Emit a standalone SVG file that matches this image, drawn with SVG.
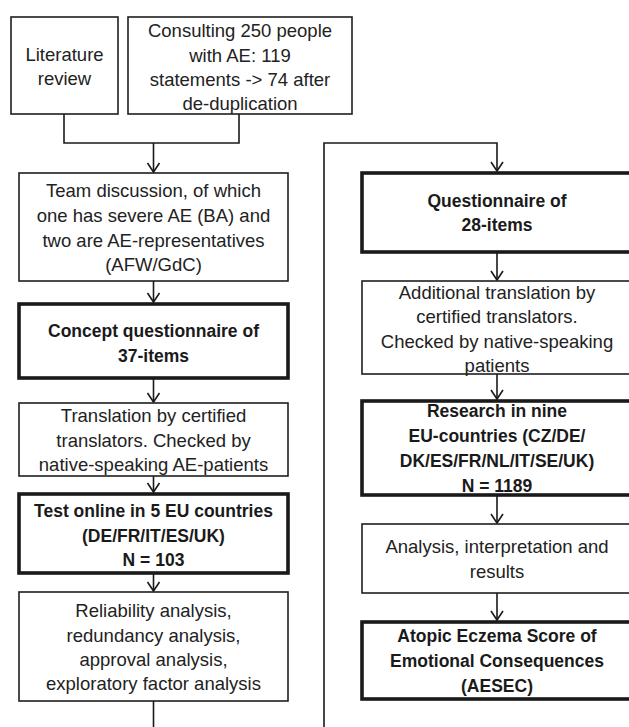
<svg xmlns="http://www.w3.org/2000/svg" width="629" height="727" viewBox="0 0 629 727">
<defs>
<marker id="arr" markerUnits="userSpaceOnUse" markerWidth="16" markerHeight="14" viewBox="-8 -12 16 14" refX="0" refY="0" orient="auto-start-reverse" overflow="visible">
<path d="M-9,-6 L0,0 L-9,6" fill="none" stroke="#1a1a1a" stroke-width="1.6"/>
</marker>
<style>
.box{fill:#fff;stroke:#1f1f1f;stroke-width:1.6}
.bold{fill:#fff;stroke:#1a1a1a;stroke-width:3.6}
.t{font-family:"Liberation Sans",Arial,sans-serif;font-size:18.5px;fill:#222;text-anchor:middle}
.b{font-family:"Liberation Sans",Arial,sans-serif;font-size:17.5px;font-weight:bold;fill:#1a1a1a;text-anchor:middle}
.c{fill:none;stroke:#1a1a1a;stroke-width:1.6}
.ca{fill:none;stroke:#1a1a1a;stroke-width:1.6;marker-end:url(#arr)}
</style>
</defs>
<rect width="629" height="727" fill="#fff"/>
<g id="connectors">
<polyline class="c" points="64,114 64,143 239,143 239,114"/>
<line class="ca" x1="153.5" y1="143" x2="153.5" y2="172"/>
<line class="ca" x1="153.5" y1="281" x2="153.5" y2="302"/>
<line class="ca" x1="153.5" y1="378" x2="153.5" y2="402"/>
<line class="ca" x1="153.5" y1="476" x2="153.5" y2="492"/>
<line class="ca" x1="153.5" y1="573" x2="153.5" y2="591"/>
<line class="c" x1="153.5" y1="701" x2="153.5" y2="727"/>
<polyline class="ca" points="324,727 324,143 497,143 497,171"/>
<line class="ca" x1="497" y1="252" x2="497" y2="280"/>
<line class="ca" x1="497" y1="374" x2="497" y2="399"/>
<line class="ca" x1="497" y1="495" x2="497" y2="523"/>
<line class="ca" x1="497" y1="593" x2="497" y2="620"/>
</g>
<g id="lit">
<rect class="box" x="11" y="17" width="107" height="97"/>
<text class="t" x="64.5" y="61">Literature</text>
<text class="t" x="64.5" y="85">review</text>
</g>
<g id="consult">
<rect class="box" x="128" y="17" width="224" height="97"/>
<text class="t" x="240" y="37">Consulting 250 people</text>
<text class="t" x="240" y="61.5">with AE: 119</text>
<text class="t" x="240" y="86">statements -&gt; 74 after</text>
<text class="t" x="240" y="110">de-duplication</text>
</g>
<g id="team">
<rect class="box" x="19" y="173" width="269" height="108"/>
<text class="t" x="153.5" y="197">Team discussion, of which</text>
<text class="t" x="153.5" y="222">one has severe AE (BA) and</text>
<text class="t" x="153.5" y="246.5">two are AE-representatives</text>
<text class="t" x="153.5" y="271">(AFW/GdC)</text>
</g>
<g id="concept">
<rect class="bold" x="19" y="304" width="269" height="74"/>
<text class="b" x="153.5" y="337">Concept questionnaire of</text>
<text class="b" x="153.5" y="362">37-items</text>
</g>
<g id="translation">
<rect class="box" x="19" y="403" width="269" height="73"/>
<text class="t" x="153.5" y="422">Translation by certified</text>
<text class="t" x="153.5" y="446.5">translators. Checked by</text>
<text class="t" x="153.5" y="471">native-speaking AE-patients</text>
</g>
<g id="test">
<rect class="bold" x="19" y="494" width="269" height="79"/>
<text class="b" x="153.5" y="517">Test online in 5 EU countries</text>
<text class="b" x="153.5" y="542">(DE/FR/IT/ES/UK)</text>
<text class="b" x="153.5" y="566">N = 103</text>
</g>
<g id="reliability">
<rect class="box" x="19" y="592" width="269" height="109"/>
<text class="t" x="153.5" y="617">Reliability analysis,</text>
<text class="t" x="153.5" y="641.5">redundancy analysis,</text>
<text class="t" x="153.5" y="666">approval analysis,</text>
<text class="t" x="153.5" y="690">exploratory factor analysis</text>
</g>
<g id="q28">
<rect class="bold" x="362" y="173" width="272" height="79"/>
<text class="b" x="497" y="207">Questionnaire of</text>
<text class="b" x="497" y="231">28-items</text>
</g>
<g id="additional">
<rect class="box" x="362" y="281" width="272" height="93"/>
<text class="t" x="497" y="299">Additional translation by</text>
<text class="t" x="497" y="323">certified translators.</text>
<text class="t" x="497" y="347.5">Checked by native-speaking</text>
<text class="t" x="497" y="372">patients</text>
</g>
<g id="research">
<rect class="bold" x="362" y="401" width="272" height="94"/>
<text class="b" x="497" y="417">Research in nine</text>
<text class="b" x="497" y="442">EU-countries (CZ/DE/</text>
<text class="b" x="497" y="467">DK/ES/FR/NL/IT/SE/UK)</text>
<text class="b" x="497" y="492">N = 1189</text>
</g>
<g id="analysis">
<rect class="box" x="362" y="524" width="272" height="69"/>
<text class="t" x="497" y="553">Analysis, interpretation and</text>
<text class="t" x="497" y="578">results</text>
</g>
<g id="aesec">
<rect class="bold" x="362" y="622" width="272" height="77"/>
<text class="b" x="497" y="642">Atopic Eczema Score of</text>
<text class="b" x="497" y="667">Emotional Consequences</text>
<text class="b" x="497" y="692">(AESEC)</text>
</g>
</svg>
